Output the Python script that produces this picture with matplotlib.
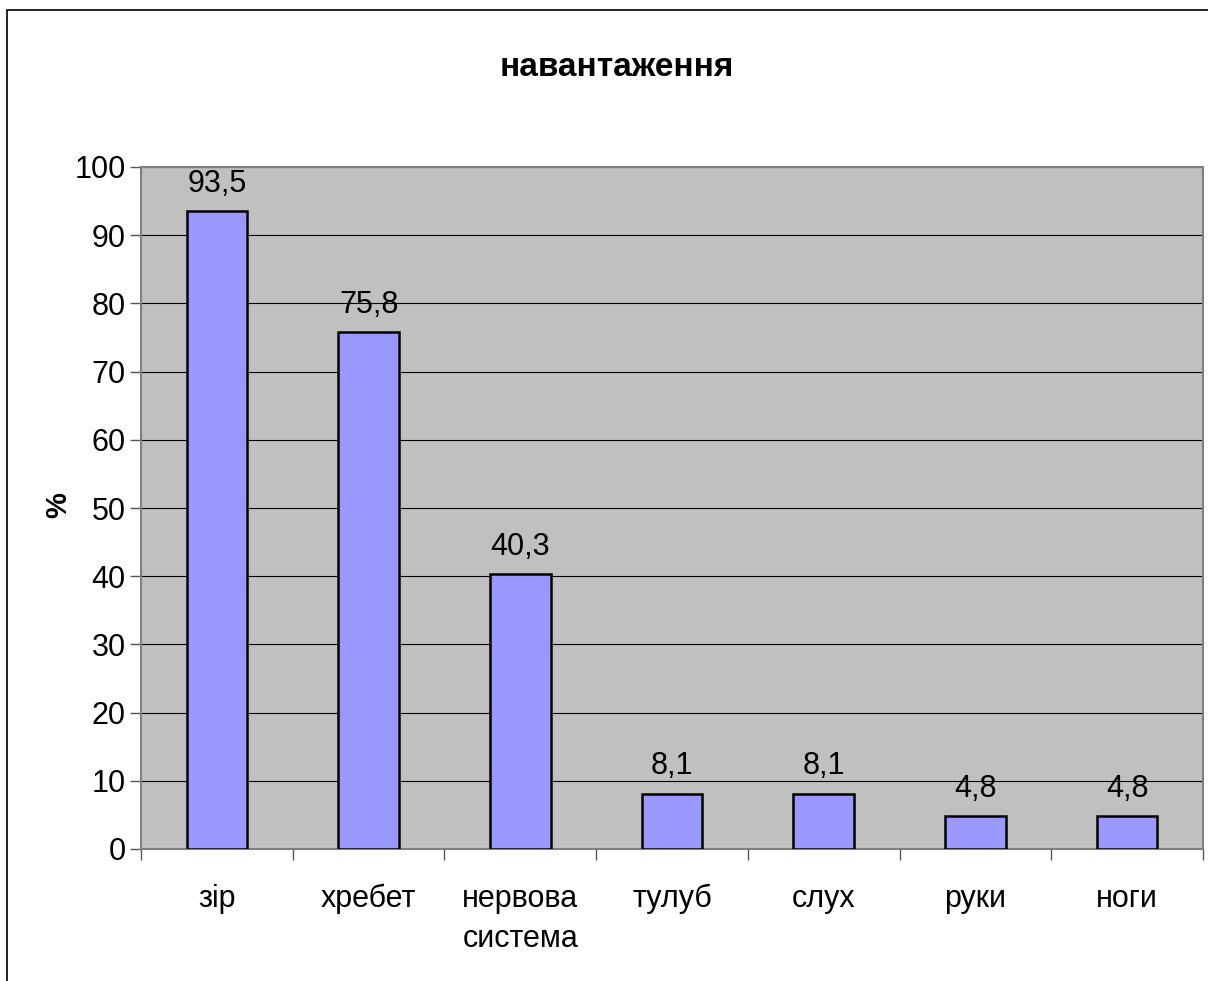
import matplotlib
matplotlib.use("Agg")
import matplotlib.pyplot as plt
from matplotlib.patches import Rectangle

categories = ["зір", "хребет", "нервова\nсистема", "тулуб", "слух", "руки", "ноги"]
values = [93.5, 75.8, 40.3, 8.1, 8.1, 4.8, 4.8]
value_labels = ["93,5", "75,8", "40,3", "8,1", "8,1", "4,8", "4,8"]
yticks = [0, 10, 20, 30, 40, 50, 60, 70, 80, 90, 100]
title = "навантаження"
ylabel = "%"

plt.rcParams['font.family'] = ['Liberation Sans', 'DejaVu Sans']

W, H = 1208, 981
fig = plt.figure(figsize=(W / 100, H / 100), dpi=100)
fig.patch.set_facecolor("white")

# outer chart border
fig.patches.append(Rectangle((7 / W, -0.05), 1.2, 1 - 10 / H + 0.05,
                             transform=fig.transFigure, fill=False,
                             edgecolor="black", linewidth=1.2))

ax = fig.add_axes([141 / W, 1 - 849 / H, 1062 / W, (849 - 167) / H])
ax.set_facecolor("#c0c0c0")
x = list(range(len(categories)))
ax.bar(x, values, width=0.4, color="#9999ff", edgecolor="black", linewidth=1.8, zorder=3)
ax.set_xlim(-0.5, len(categories) - 0.5)
ax.set_ylim(0, 100)
ax.set_yticks(yticks)
ax.set_yticklabels([str(t) for t in yticks], fontsize=22)
ax.yaxis.grid(True, color="black", linewidth=0.8, zorder=1)
ax.set_axisbelow(True)

ax.set_xticks([i + 0.5 for i in range(-1, len(categories))])
ax.set_xticklabels([])
ax.set_xticks(x, minor=True)
ax.set_xticklabels(categories, minor=True, fontsize=22, linespacing=1.45)
ax.tick_params(axis="x", which="minor", length=0, pad=25)
ax.tick_params(axis="x", which="major", length=8, width=1, color="#555555", direction="out")
ax.tick_params(axis="y", length=8, width=1, color="#555555", direction="out", pad=3)

for s in ax.spines.values():
    s.set_color("#808080")
    s.set_linewidth(1.5)

for xi, v, lab in zip(x, values, value_labels):
    ax.annotate(lab, (xi, v), xytext=(0, 9), textcoords="offset points",
                ha="center", va="bottom", fontsize=22)

fig.text(617 / W, 1 - 68 / H, title, ha="center", va="center",
         fontsize=24, fontweight="bold")
fig.text(58 / W, 1 - 505 / H, ylabel, ha="center", va="center", rotation=90,
         fontsize=21, fontweight="bold")

fig.savefig("out.png", dpi=100)
